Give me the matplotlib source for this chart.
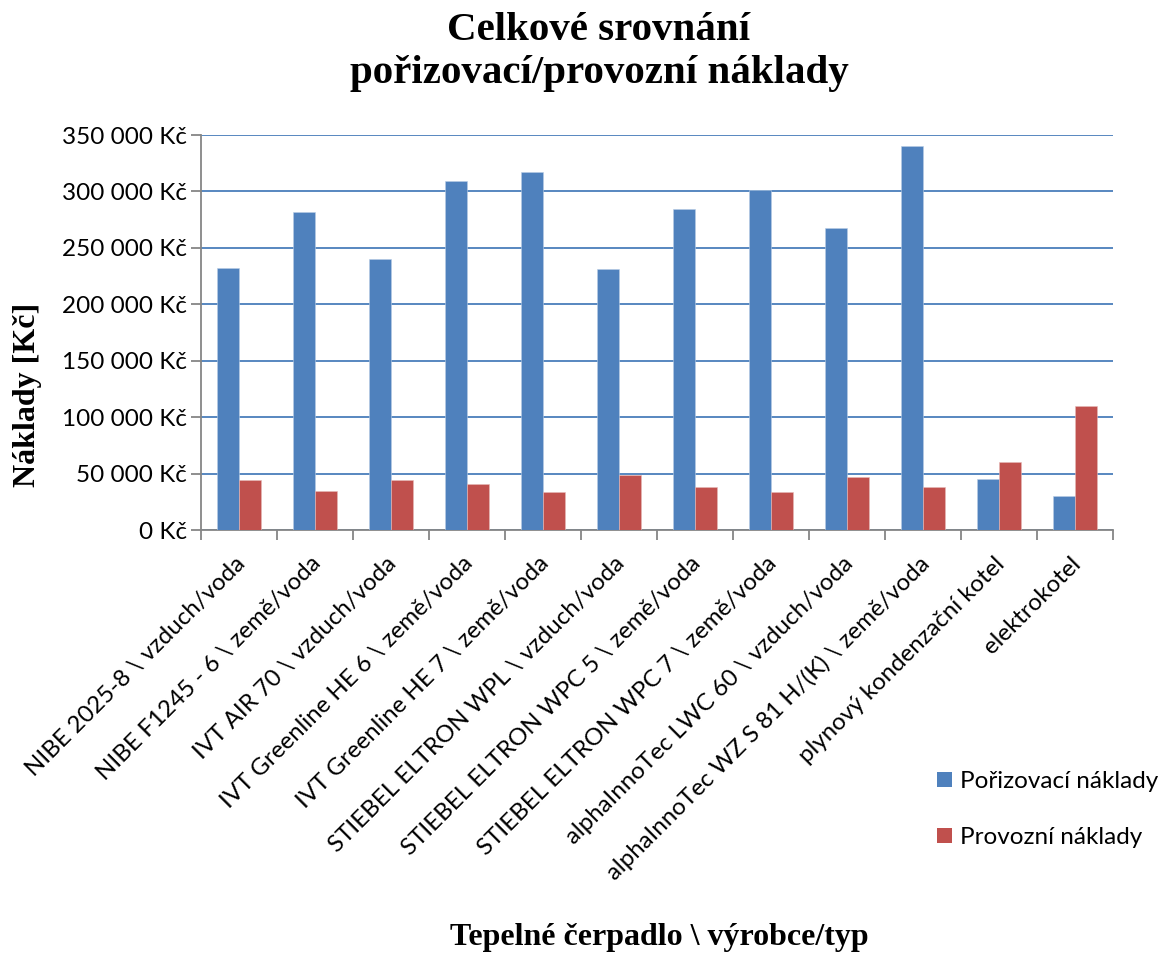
"""Celkové srovnání pořizovacích a provozních nákladů tepelných čerpadel."""
import numpy as np
import matplotlib
matplotlib.use("Agg")
import matplotlib.pyplot as plt
import matplotlib.transforms as mtransforms
from matplotlib.patches import Patch
from matplotlib.ticker import FuncFormatter, MultipleLocator

CATEGORIES = [
    "NIBE 2025-8 \\ vzduch/voda",
    "NIBE F1245 - 6 \\ země/voda",
    "IVT AIR 70 \\ vzduch/voda",
    "IVT Greenline HE 6 \\ země/voda",
    "IVT Greenline HE 7 \\ země/voda",
    "STIEBEL ELTRON WPL \\ vzduch/voda",
    "STIEBEL ELTRON WPC 5 \\ země/voda",
    "STIEBEL ELTRON WPC 7 \\ země/voda",
    "alphaInnoTec LWC 60 \\ vzduch/voda",
    "alphaInnoTec WZ S 81 H/(K) \\ země/voda",
    "plynový kondenzační kotel",
    "elektrokotel",
]
PORIZOVACI = [232000, 282000, 240000, 309000, 317000, 231000,
              284000, 301000, 268000, 340000, 45000, 30000]
PROVOZNI = [44000, 34500, 44500, 41000, 34000, 48500,
            38000, 34000, 47000, 38500, 60000, 110000]
SERIES = ["Pořizovací náklady", "Provozní náklady"]
COLORS = ["#4F81BD", "#C0504D"]

W, H = 1161, 955
SANS = "Lato"
SERIF = "Liberation Serif"

fig = plt.figure(figsize=(W / 100, H / 100), dpi=100)
ax = fig.add_axes([201 / W, 1 - 530 / H, 912 / W, 395 / H])

x = np.arange(len(CATEGORIES))
bw = 0.29
ax.bar(x - bw / 2, PORIZOVACI, bw, color=COLORS[0], edgecolor="#b9cde5", linewidth=0.4, zorder=3)
ax.bar(x + bw / 2, PROVOZNI, bw, color=COLORS[1], edgecolor="#e6b9b8", linewidth=0.4, zorder=3)

ax.set_xlim(-0.5, len(CATEGORIES) - 0.5)
ax.set_ylim(0, 350000)
ax.yaxis.set_major_locator(MultipleLocator(50000))
ax.yaxis.set_major_formatter(FuncFormatter(
    lambda v, _: "{:,.0f} Kč".format(v).replace(",", " ")))
ax.grid(axis="y", color="#4A7EBB", linewidth=1.3, zorder=0)

for s in ["top", "right"]:
    ax.spines[s].set_visible(False)
for s in ["left", "bottom"]:
    ax.spines[s].set_color("#868686")
    ax.spines[s].set_linewidth(1.3)

ax.set_xticks(x)
ax.set_xticks(np.arange(-0.5, len(CATEGORIES)), minor=True)
ax.set_xticklabels(CATEGORIES, rotation=45, ha="right", va="top",
                   rotation_mode="anchor", fontsize=17.3, family=SANS)
ax.tick_params(axis="x", which="major", length=0, pad=16.5)
ax.tick_params(axis="x", which="minor", length=7, width=1.3, color="#868686")
ax.tick_params(axis="y", length=7, width=1.3, color="#868686", labelsize=17.5, pad=3)
for lbl in ax.get_yticklabels():
    lbl.set_family(SANS)
shift = mtransforms.ScaledTranslation(-5 / 100, 0, fig.dpi_scale_trans)
for lbl in ax.get_xticklabels():
    lbl.set_transform(lbl.get_transform() + shift)

fig.text(599 / W, 1 - 12 / H, "Celkové srovnání\npořizovací/provozní náklady",
         ha="center", va="top", fontsize=29.5, fontweight="bold",
         family=SERIF, linespacing=1.2)
fig.text(28 / W, 1 - 395 / H, "Náklady [Kč]", rotation=90, ha="center", va="center",
         fontsize=23, fontweight="bold", family=SERIF)
fig.text(659 / W, 1 - 937 / H, "Tepelné čerpadlo \\ výrobce/typ", ha="center", va="center",
         fontsize=23, fontweight="bold", family=SERIF)

handles = [Patch(facecolor=c, label=s) for c, s in zip(COLORS, SERIES)]
fig.legend(handles=handles, loc="upper left", bbox_to_anchor=(937 / W, 1 - 771 / H),
           frameon=False, borderpad=0, borderaxespad=0, prop={"family": SANS, "size": 17.5},
           handlelength=0.6, handleheight=0.6, handletextpad=0.35, labelspacing=1.45)

fig.savefig("out.png", dpi=100)
